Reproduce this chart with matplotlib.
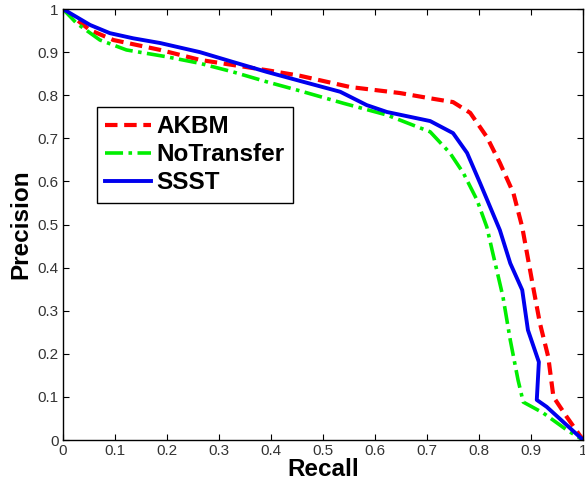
import matplotlib.pyplot as plt

# values
akbm_recall = [0.0, 0.052, 0.097, 0.187, 0.263, 0.327, 0.392, 0.456, 0.552, 0.648, 0.700, 0.750,
               0.783, 0.815, 0.840, 0.866, 0.883, 0.904, 0.917, 0.933, 0.943, 0.969, 1.0]
akbm_precision = [1.0, 0.951, 0.928, 0.905, 0.882, 0.870, 0.858, 0.845, 0.819, 0.805, 0.794, 0.784,
                  0.759, 0.703, 0.643, 0.573, 0.494, 0.355, 0.271, 0.193, 0.100, 0.053, 0.0]

notransfer_recall = [0.0, 0.026, 0.071, 0.122, 0.200, 0.263, 0.327, 0.392, 0.456, 0.540, 0.623, 0.706,
                     0.744, 0.770, 0.796, 0.815, 0.825, 0.831, 0.846, 0.860, 0.875, 0.885, 0.923, 0.969, 1.0]
notransfer_precision = [1.0, 0.967, 0.928, 0.905, 0.889, 0.874, 0.854, 0.831, 0.810, 0.781, 0.754, 0.715,
                        0.666, 0.619, 0.557, 0.494, 0.441, 0.410, 0.332, 0.232, 0.139, 0.088, 0.063, 0.023, 0.0]

ssst_recall = [0.0, 0.052, 0.090, 0.135, 0.187, 0.263, 0.327, 0.392, 0.456, 0.533, 0.584, 0.623, 0.706,
               0.750, 0.777, 0.802, 0.840, 0.860, 0.883, 0.894, 0.915, 0.911, 0.930, 1.0]
ssst_precision = [1.0, 0.963, 0.944, 0.932, 0.921, 0.900, 0.877, 0.854, 0.833, 0.808, 0.777, 0.761, 0.740,
                  0.712, 0.666, 0.596, 0.487, 0.410, 0.348, 0.255, 0.181, 0.093, 0.077, 0.0]

ticks = [0, 0.1, 0.2, 0.3, 0.4, 0.5, 0.6, 0.7, 0.8, 0.9, 1]
tick_labels = ['0', '0.1', '0.2', '0.3', '0.4', '0.5', '0.6', '0.7', '0.8', '0.9', '1']

plt.rcParams['font.family'] = ['Liberation Sans', 'DejaVu Sans']

fig = plt.figure(figsize=(5.85, 4.84), dpi=100)
ax = fig.add_axes([0.1077, 0.0909, 0.889, 0.8905])

ax.plot(akbm_recall, akbm_precision, color='#ff0000', linestyle=(0, (3, 1.6)), linewidth=3, label='AKBM')
ax.plot(notransfer_recall, notransfer_precision, color='#00ee00', linestyle=(0, (5, 1.5, 1, 1.5)),
        linewidth=2.6, label='NoTransfer')
ax.plot(ssst_recall, ssst_precision, color='#0000ee', linestyle='-', linewidth=2.8, label='SSST')

ax.set_xlim(0, 1)
ax.set_ylim(0, 1)
ax.set_xticks(ticks)
ax.set_xticklabels(tick_labels)
ax.set_yticks(ticks)
ax.set_yticklabels(tick_labels)
ax.tick_params(direction='in', top=True, right=True, length=4, labelsize=11,
               labelcolor='#333333', pad=3)
for s in ax.spines.values():
    s.set_linewidth(1.0)

ax.set_xlabel('Recall', fontsize=17.5, fontweight='bold', labelpad=0)
ax.set_ylabel('Precision', fontsize=17.5, fontweight='bold', labelpad=4)

leg = ax.legend(loc='upper left', bbox_to_anchor=(0.065, 0.773),
                prop={'weight': 'bold', 'size': 17.5}, handlelength=1.9, handletextpad=0.2,
                labelspacing=0.2, borderpad=0.35, fancybox=False, framealpha=1,
                edgecolor='black', borderaxespad=0)
leg.get_frame().set_linewidth(1.0)

plt.savefig('out.png', dpi=100)
